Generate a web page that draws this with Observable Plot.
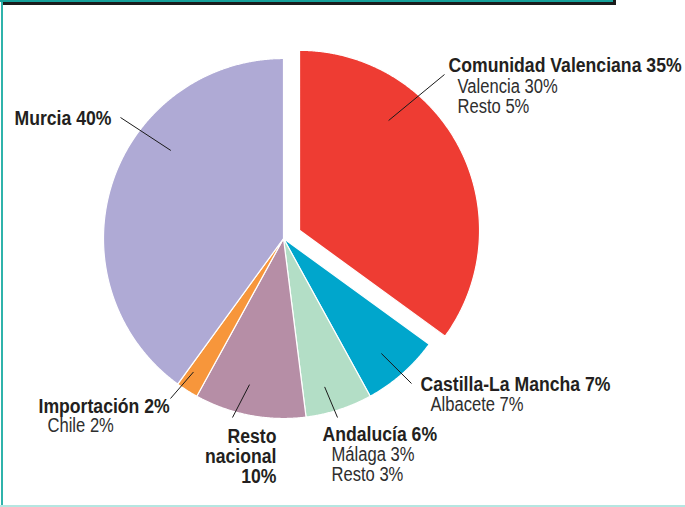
<!DOCTYPE html>
<html><head><meta charset="utf-8">
<script src="https://cdn.jsdelivr.net/npm/d3@7"></script>
<script src="https://cdn.jsdelivr.net/npm/@observablehq/plot@0.6"></script>
<style>
body{margin:0;background:#fff;}
#wrap{position:relative;width:685px;height:507px;overflow:hidden;background:#fff;}
#wrap svg{position:absolute;left:0;top:0;}
.fl{position:absolute;left:1px;top:0;width:2px;height:507px;background:#2fb3ab;}
.fb{position:absolute;left:0;bottom:0;width:685px;height:2px;background:#b5e6e1;}
.ft{position:absolute;left:0;top:0;width:616px;height:2px;background:#16a19a;}
.fd{position:absolute;left:3px;top:2px;width:613px;height:3px;background:#1b1b1b;}
.fc{position:absolute;left:613px;top:0;width:3px;height:5px;background:#1b1b1b;}
</style></head><body><div id="wrap"></div>
<script>
// ---- data ----
const categories = ["Comunidad Valenciana", "Castilla-La Mancha", "Andalucía", "Resto nacional", "Importación", "Murcia"];
const shares = [35, 7, 6, 10, 2, 40];
const colors = ["#ee3c33", "#00a6cc", "#b3dec6", "#b68ea6", "#f7963b", "#afaad5"];
const titles = ["Comunidad Valenciana 35%", "Castilla-La Mancha 7%", "Andalucía 6%", "Resto\nnacional\n10%", "Importación 2%", "Murcia 40%"];
const details = [["Valencia 30%", "Resto 5%"], ["Albacete 7%"], ["Málaga 3%", "Resto 3%"], [], ["Chile 2%"], []];

// ---- layout ----
const W = 685, H = 507, CX = 283, CY = 238, R = 180, EXPLODE = 18;
const FONT = "'Liberation Sans', Arial, sans-serif";
const FS = 21;
const SX_BOLD = 0.84, SX_REG = 0.79;
// title position (x, baseline), anchor, detail x/baseline, leader angle (deg), leader radius, leader end
const labelLayout = [
  {tx: 448, ty: 72, anchor: "start", dx: 457, dy: 94, la: 41.7, lr: 158, ex: 444, ey: 74},
  {tx: 420, ty: 391, anchor: "start", dx: 430, dy: 412, la: 139.6, lr: 151, ex: 411, ey: 383},
  {tx: 322, ty: 441, anchor: "start", dx: 331, dy: 462, la: 164.5, lr: 154, ex: 337, ey: 417},
  {tx: 276, ty: 443, anchor: "end", dx: 276, dy: 463, la: 193.1, lr: 150, ex: 232, ey: 417},
  {tx: 38, ty: 413, anchor: "start", dx: 47, dy: 433, la: 214, lr: 161, ex: 170, ey: 398},
  {tx: 14, ty: 125, anchor: "start", dx: 14, dy: 145, la: 308, lr: 143, ex: 120, ey: 117}
];

const arcs = d3.pie().sort(null).value(d => d).startAngle(0).endAngle(2 * Math.PI)(shares);
const polys = [];
arcs.forEach((a, i) => {
  const mid = (a.startAngle + a.endAngle) / 2;
  const ox = i === 0 ? EXPLODE * Math.sin(mid) : 0;
  const oy = i === 0 ? -EXPLODE * Math.cos(mid) : 0;
  const cx = CX + ox, cy = CY + oy;
  polys.push({k: i, x: cx, y: cy});
  const n = Math.max(4, Math.ceil((a.endAngle - a.startAngle) / 0.005));
  for (let j = 0; j <= n; j++) {
    const t = a.startAngle + (a.endAngle - a.startAngle) * j / n;
    polys.push({k: i, x: cx + R * Math.sin(t), y: cy - R * Math.cos(t)});
  }
  polys.push({k: i, x: cx, y: cy});
});

const leaders = labelLayout.map((l, i) => {
  const t = l.la * Math.PI / 180;
  return {x1: CX + l.lr * Math.sin(t), y1: CY - l.lr * Math.cos(t), x2: l.ex, y2: l.ey};
});

const titleRows = titles.map((t, i) => ({text: t, x: labelLayout[i].tx, y: labelLayout[i].ty - 0.71 * FS, anchor: labelLayout[i].anchor}));
const detailRows = details.map((ds, i) => ({text: ds.join("\n"), x: labelLayout[i].dx, y: labelLayout[i].dy - 0.71 * FS})).filter(d => d.text);

const chart = Plot.plot({
  width: W, height: H,
  margin: 0,
  style: {background: "transparent", fontFamily: FONT},
  x: {domain: [0, W], range: [0, W], axis: null},
  y: {domain: [0, H], range: [0, H], axis: null},
  color: {domain: d3.range(categories.length), range: colors},
  marks: [
    Plot.line(polys, {x: "x", y: "y", z: "k", fill: "k", stroke: "#fff", strokeWidth: 1.2, curve: "linear"}),
    Plot.link(leaders, {x1: "x1", y1: "y1", x2: "x2", y2: "y2", stroke: "#1a1a1a", strokeWidth: 1}),
    Plot.text(titleRows.filter(d => d.anchor === "start"), {x: "x", y: "y", text: "text", textAnchor: "start", lineAnchor: "top", fontSize: FS, fontWeight: "bold", fill: "#231f20", lineHeight: 0.95}),
    Plot.text(titleRows.filter(d => d.anchor === "end"), {x: "x", y: "y", text: "text", textAnchor: "end", lineAnchor: "top", fontSize: FS, fontWeight: "bold", fill: "#231f20", lineHeight: 0.95}),
    Plot.text(detailRows, {x: "x", y: "y", text: "text", textAnchor: "start", lineAnchor: "top", fontSize: FS, fontWeight: "normal", fill: "#2e2e2e", lineHeight: 0.93})
  ]
});
// condense the type horizontally (narrow face), keeping each anchor fixed
chart.querySelectorAll('g[aria-label="text"]').forEach(g => {
  const s = g.getAttribute("font-weight") === "bold" ? SX_BOLD : SX_REG;
  g.querySelectorAll("text").forEach(el => {
    let tr = el.getAttribute("transform");
    if (!tr) {
      const x = +el.getAttribute("x") || 0, y = +el.getAttribute("y") || 0;
      el.removeAttribute("x"); el.removeAttribute("y");
      el.querySelectorAll("tspan").forEach(ts => { if (ts.hasAttribute("x")) ts.setAttribute("x", 0); });
      tr = `translate(${x},${y})`;
    }
    el.setAttribute("transform", tr + ` scale(${s},1)`);
  });
});
const wrap = document.getElementById("wrap");
wrap.appendChild(chart);
["fl", "fb", "ft", "fd", "fc"].forEach(c => { const d = document.createElement("div"); d.className = c; wrap.appendChild(d); });
</script></body></html>
